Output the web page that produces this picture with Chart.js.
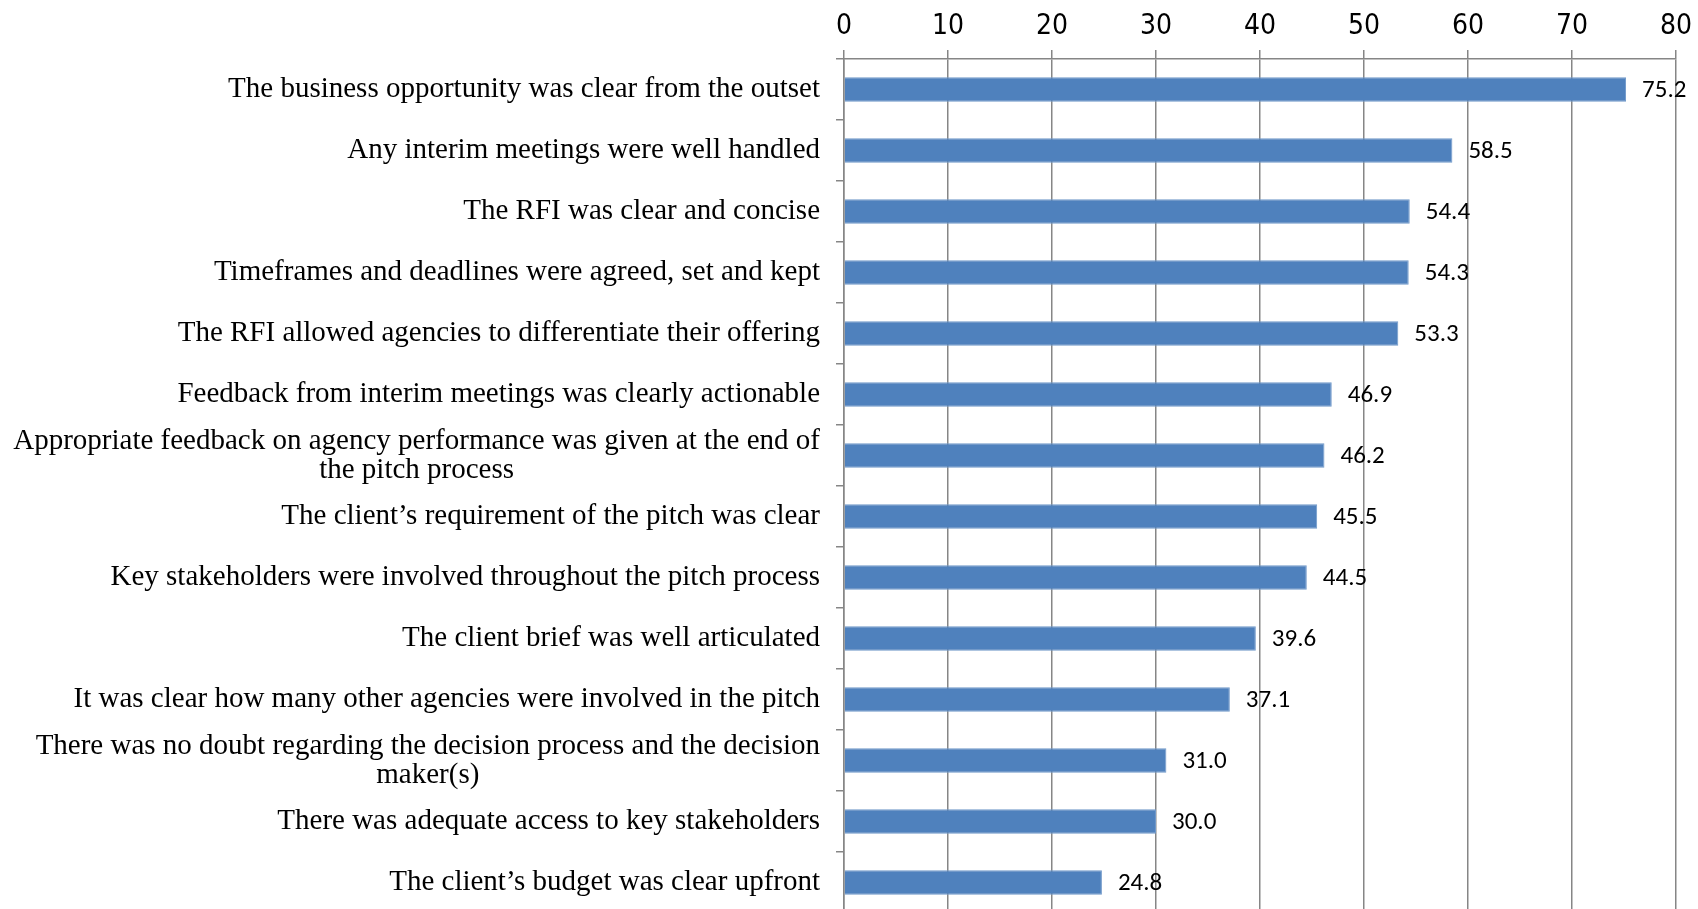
<!DOCTYPE html>
<html>
<head>
<meta charset="utf-8">
<script src="https://cdn.jsdelivr.net/npm/chart.js@4/dist/chart.umd.min.js"></script>
<style>
  html, body { margin: 0; padding: 0; background: #fff; overflow: hidden; }
  canvas { display: block; }
</style>
</head>
<body>
<canvas id="pitch-chart" width="1698" height="913"></canvas>
<script>
// pitch process survey - horizontal bars, axis on top

const categories = [
  "The business opportunity was clear from the outset",
  "Any interim meetings were well handled",
  "The RFI was clear and concise",
  "Timeframes and deadlines were agreed, set and kept",
  "The RFI allowed agencies to differentiate their offering",
  "Feedback from interim meetings was clearly actionable",
  ["Appropriate feedback on agency performance was given at the end of", "the pitch process"],
  "The client\u2019s requirement of the pitch was clear",
  "Key stakeholders were involved throughout the pitch process",
  "The client brief was well articulated",
  "It was clear how many other agencies were involved in the pitch",
  ["There was no doubt regarding the decision process and the decision", "maker(s)"],
  "There was adequate access to key stakeholders",
  "The client\u2019s budget was clear upfront"
];
const scores = [75.2, 58.5, 54.4, 54.3, 53.3, 46.9, 46.2, 45.5, 44.5, 39.6, 37.1, 31.0, 30.0, 24.8];
const xTicks = [0, 10, 20, 30, 40, 50, 60, 70, 80];

const GRID = "#868686";

// value text to the right of every bar
const valueLabels = {
  id: "valueLabels",
  afterDatasetsDraw(chart) {
    const { ctx } = chart;
    const meta = chart.getDatasetMeta(0);
    ctx.save();
    ctx.font = "25px Carlito, Lato, sans-serif";
    ctx.fillStyle = "#000";
    ctx.textAlign = "left";
    ctx.textBaseline = "middle";
    meta.data.forEach((bar, i) => {
      ctx.fillText(scores[i].toFixed(1), bar.x + 16, bar.y + 1);
    });
    ctx.restore();
  }
};

// category text: block right-aligned, wrapped lines centred inside the block
const categoryLabels = {
  id: "categoryLabels",
  afterDraw(chart) {
    const { ctx } = chart;
    const scale = chart.scales.y;
    const right = scale.right - 24;
    ctx.save();
    ctx.font = "29px 'Liberation Serif', serif";
    ctx.fillStyle = "#000";
    ctx.textBaseline = "middle";
    ctx.textAlign = "center";
    categories.forEach((label, i) => {
      const lines = Array.isArray(label) ? label : [label];
      const w = Math.max(...lines.map(l => ctx.measureText(l).width));
      const cx = right - w / 2;
      const y = scale.getPixelForTick(i);
      lines.forEach((line, j) => {
        ctx.fillText(line, cx, y + (j - (lines.length - 1) / 2) * 29);
      });
    });
    ctx.restore();
  }
};

new Chart(document.getElementById("pitch-chart"), {
  type: "bar",
  data: {
    labels: categories,
    datasets: [{
      data: scores,
      backgroundColor: "#4F81BD",
      borderColor: "#7098c9",
      borderWidth: 1,
      barPercentage: 0.4,
      categoryPercentage: 1.0
    }]
  },
  options: {
    indexAxis: "y",
    responsive: false,
    animation: false,
    layout: { padding: { left: 0, right: 16, top: 0, bottom: 0 } },
    plugins: {
      legend: { display: false },
      tooltip: { enabled: false }
    },
    scales: {
      x: {
        position: "top",
        min: 0,
        max: 80,
        afterBuildTicks: (s) => { s.ticks = xTicks.map(v => ({ value: v })); },
        afterFit: (s) => { s.height = 59; },
        grid: { color: GRID, lineWidth: 1.5, tickLength: 9 },
        border: { color: GRID, width: 1.5 },
        ticks: {
          padding: 6,
          color: "#000",
          font: { family: "'Liberation Sans Narrow', 'DejaVu Sans Condensed', 'Liberation Sans', sans-serif", size: 28 }
        }
      },
      y: {
        afterFit: (s) => { s.width = 844; },
        grid: { drawOnChartArea: false, color: GRID, lineWidth: 1.5, tickLength: 8, offset: true },
        border: { color: GRID, width: 1.5 },
        ticks: { display: false }
      }
    }
  },
  plugins: [valueLabels, categoryLabels]
});
</script>
</body>
</html>
